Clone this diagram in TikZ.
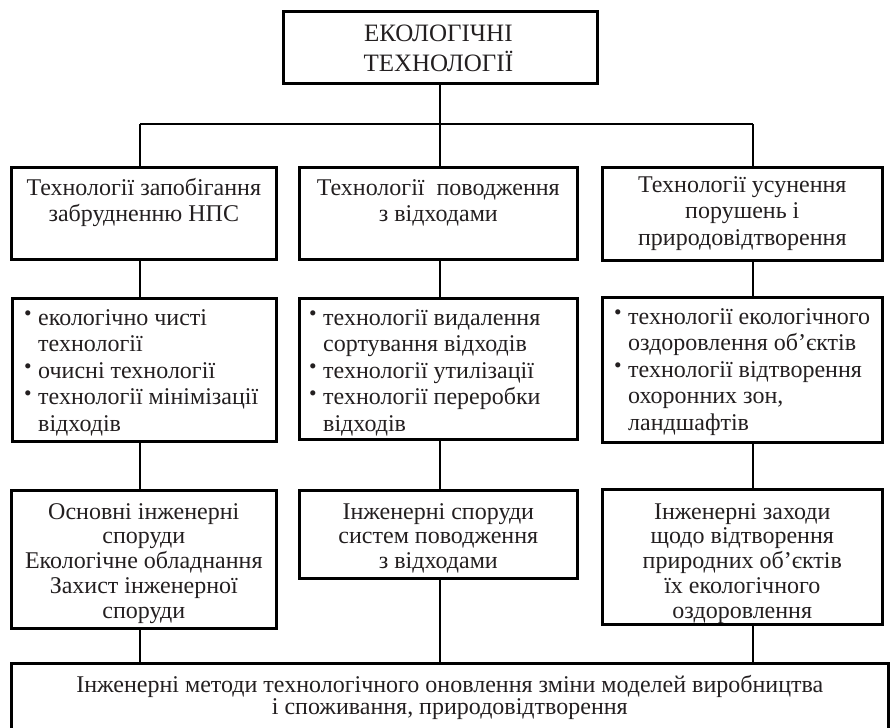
\documentclass[tikz,border=0pt]{standalone}
\usepackage{graphicx}
\usepackage{fontspec}
\setmainfont{Liberation Serif}
\definecolor{ink}{HTML}{231F20}
% invisible strut fixing the height of the first text line
\newcommand\fl{\rule{0pt}{21pt}}
% raised bullet and the matching hanging indent
\newcommand\blt{\makebox[14pt][l]{\raisebox{4.5pt}{\scalebox{0.9}{•}}}}
\newcommand\ind{\hspace*{14pt}}
\begin{document}
\begin{tikzpicture}[x=1pt,y=-1pt,
  box/.style={draw=black, line width=2.6pt, inner sep=0pt, anchor=north west},
  link/.style={draw=black, line width=1.8pt},
  txt/.style={inner sep=0pt, text=ink, font=\fontsize{24}{26.5}\selectfont, align=center, anchor=north},
  ltxt/.style={txt, align=left, anchor=north west},
  ctxt/.style={txt, font=\fontsize{24}{24.7}\selectfont}]
\clip (0,0) rectangle (892,728);

% frames
\node[box, minimum width=314pt, minimum height=72pt]  (top) at (282,10) {};
\node[box, minimum width=265pt, minimum height=92pt]  (h1)  at (10,166) {};
\node[box, minimum width=278pt, minimum height=92pt]  (h2)  at (298,166) {};
\node[box, minimum width=280pt, minimum height=93pt]  (h3)  at (601,166) {};
\node[box, minimum width=264pt, minimum height=143pt] (b1)  at (11,297) {};
\node[box, minimum width=278pt, minimum height=141pt] (b2)  at (298,297) {};
\node[box, minimum width=280pt, minimum height=145pt] (b3)  at (601,296) {};
\node[box, minimum width=265pt, minimum height=138pt] (e1)  at (10,489) {};
\node[box, minimum width=278pt, minimum height=88pt]  (e2)  at (298,489) {};
\node[box, minimum width=280pt, minimum height=135pt] (e3)  at (601,488) {};
\node[box, minimum width=877pt, minimum height=80pt]  (bt)  at (10,662) {};

% connector columns and the distribution bus
\coordinate (busL) at (140,124);
\coordinate (busM) at (440,124);
\coordinate (busR) at (753,124);

\draw[link] (top.south) -- (top.south |- busL);
\draw[link] (busL) -- (busR);
\draw[link] (busL) -- (busL |- h1.north);
\draw[link] (busM) -- (busM |- h2.north);
\draw[link] (busR) -- (busR |- h3.north);
\draw[link] (busL |- h1.south) -- (busL |- b1.north);
\draw[link] (busM |- h2.south) -- (busM |- b2.north);
\draw[link] (busR |- h3.south) -- (busR |- b3.north);
\draw[link] (busL |- b1.south) -- (busL |- e1.north);
\draw[link] (busM |- b2.south) -- (busM |- e2.north);
\draw[link] (busR |- b3.south) -- (busR |- e3.north);
\draw[link] (busL |- e1.south) -- (busL |- bt.north);
\draw[link] (busM |- e2.south) -- (busM |- bt.north);
\draw[link] (busR |- e3.south) -- (busR |- bt.north);

% texts
\node[txt, font=\fontsize{25}{29.5}\selectfont] (ttop) at ([xshift=-2pt,yshift=-10.5pt]top.north) {\fl ЕКОЛОГІЧНІ\\ТЕХНОЛОГІЇ};
\node[txt] (th1) at ([yshift=-8pt]h1.north) {\fl Технології запобігання\\забрудненню НПС};
\node[txt] (th2) at ([yshift=-8pt]h2.north) {\fl Технології\ \ поводження\\з відходами};
\node[txt] (th3) at ([yshift=-5pt]h3.north) {\fl Технології усунення\\порушень і\\природовідтворення};

\node[ltxt] (tb1) at ([xshift=13pt,yshift=-7pt]b1.north west) {\fl\blt екологічно чисті\\\ind технології\\\blt очисні технології\\\blt технології мінімізації\\\ind відходів};
\node[ltxt] (tb2) at ([xshift=11pt,yshift=-7pt]b2.north west) {\fl\blt технології видалення\\\ind сортування відходів\\\blt технології утилізації\\\blt технології переробки\\\ind відходів};
\node[ltxt] (tb3) at ([xshift=13pt,yshift=-7pt]b3.north west) {\fl\blt технології екологічного\\\ind оздоровлення об’єктів\\\blt технології відтворення\\\ind охоронних зон,\\\ind ландшафтів};

\node[ctxt] (te1) at ([yshift=-9pt]e1.north) {\fl Основні інженерні\\споруди\\Екологічне обладнання\\Захист інженерної\\споруди};
\node[ctxt] (te2) at ([yshift=-9pt]e2.north) {\fl Інженерні споруди\\систем поводження\\з відходами};
\node[ctxt] (te3) at ([yshift=-10pt]e3.north) {\fl Інженерні заходи\\щодо відтворення\\природних об’єктів\\їх екологічного\\оздоровлення};

\node[txt, font=\fontsize{24}{22.5}\selectfont] (tbt) at ([yshift=-9pt]bt.north) {\fl Інженерні методи технологічного оновлення зміни моделей виробництва\\і споживання, природовідтворення};
\end{tikzpicture}
\end{document}
